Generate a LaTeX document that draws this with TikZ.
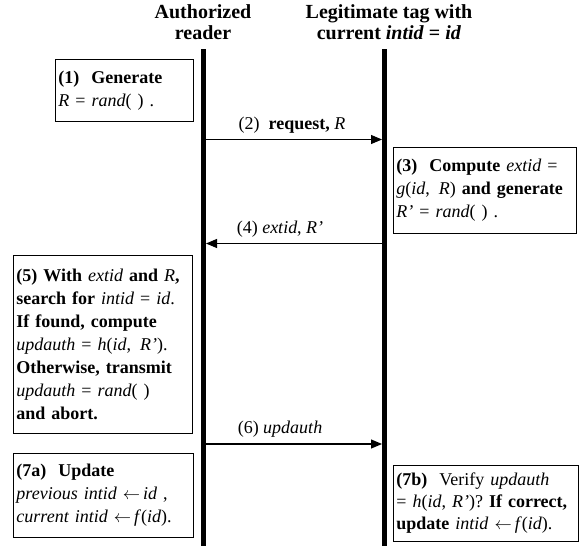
\documentclass[tikz,border=0pt]{standalone}
\usepackage{fontspec}
\setmainfont{Liberation Serif}
\usetikzlibrary{arrows.meta}
\newcommand{\mth}[1]{{\mdseries #1}}
\begin{document}
\begin{tikzpicture}[x=1pt,y=-1pt,
  box/.style={draw, line width=0.9pt, anchor=north west, inner xsep=3pt, inner ysep=0pt,
    align=left, font=\bfseries\fontsize{18}{23}\selectfont},
  life/.style={line width=5pt},
  msg/.style={line width=1.1pt, -{Triangle[length=11pt,width=9pt]}},
  lbl/.style={font=\bfseries\fontsize{18}{20}\selectfont, inner sep=0pt},
  hdr/.style={font=\bfseries\fontsize{20}{21}\selectfont, align=center, inner sep=0pt}]
\useasboundingbox (0,0) rectangle (586,546);

% headers
\node[hdr] (hA) at (203,22) {Authorized\\reader};
\node[hdr] (hT) at (389,22) {Legitimate tag with\\current \textit{intid} = \textit{id}};

% lifelines
\coordinate (L0) at (203.5,49);
\coordinate (L1) at (203.5,546);
\coordinate (T0) at (384.5,49);
\coordinate (T1) at (384.5,546);
\draw[life] (L0) -- (L1);
\draw[life] (T0) -- (T1);

% boxes
\node[box, text width=132pt, minimum height=62pt] (b1) at (55,59)
  {(1)\ \ Generate\\ \mth{\textit{R} = \textit{rand}( ) .}};
\node[box, text width=177pt, minimum height=86pt] (b3) at (393,147)
  {(3)\ \ Compute \mth{\textit{extid} =}\\
   \mth{\textit{g}(\textit{id}, \,\textit{R})} and generate\\
   \mth{\textit{R’} = \textit{rand}( ) .}};
\node[box, text width=173pt, minimum height=178pt] (b5) at (13,255)
  {(5) With \mth{\textit{extid}} and \mth{\textit{R}},\\
   search for \mth{\textit{intid} = \textit{id}.}\\
   If found, compute\\
   \mth{\textit{updauth} = \textit{h}(\textit{id}, \,\textit{R’}).}\\
   Otherwise, transmit\\
   \mth{\textit{updauth} = \textit{rand}( )}\\
   and abort.};
\node[box, text width=174pt, minimum height=84pt] (b7a) at (13,453)
  {(7a)\ \ Update\\
   \mth{\textit{previous\ intid} $\leftarrow$\,\textit{id} ,}\\
   \mth{\textit{current\ intid} $\leftarrow$\,\textit{f}(\textit{id}).}};
\node[box, text width=179pt, minimum height=76pt,
      font=\bfseries\fontsize{18}{22}\selectfont] (b7b) at (393,465)
  {(7b)\ \ \mth{Verify \textit{updauth}}\\
   \mth{= \textit{h}(\textit{id}, \textit{R’})?} If correct,\\
   update \mth{\textit{intid} $\leftarrow$\,\textit{f}(\textit{id}).}};

% messages
\coordinate (m2a) at (206,139.5);
\coordinate (m2b) at (382,139.5);
\draw[msg] (m2a) -- (m2b);
\node[lbl] (l2) at (292,125) {\mth{(2)}\ \ request, \mth{\textit{R}}};

\coordinate (m4a) at (382,243.5);
\coordinate (m4b) at (206,243.5);
\draw[msg] (m4a) -- (m4b);
\node[lbl] (l4) at (280,229) {\mth{(4) \textit{extid}, \textit{R’}}};

\coordinate (m6a) at (206,444);
\coordinate (m6b) at (382,444);
\draw[msg] (m6a) -- (m6b);
\node[lbl] (l6) at (280,429) {\mth{(6) \textit{updauth}}};
\end{tikzpicture}
\end{document}
